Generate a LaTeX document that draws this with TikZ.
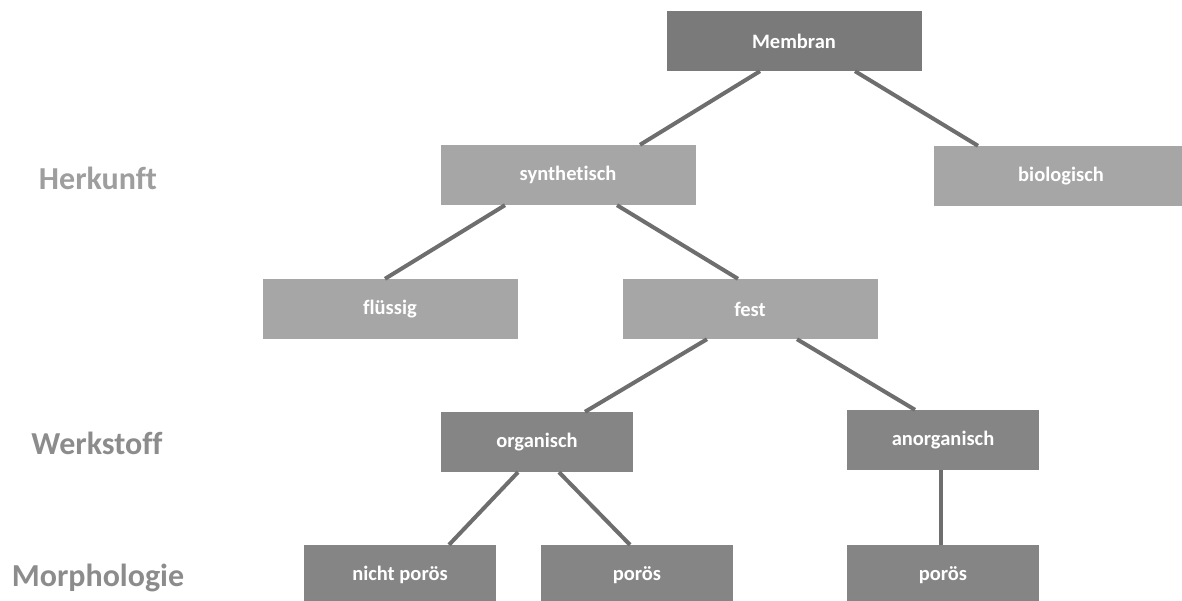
\documentclass[tikz,border=0pt]{standalone}
\usepackage{fontspec}
\setmainfont{Carlito}[Ligatures={NoCommon}]
\usepackage{tikz}
\usetikzlibrary{positioning}
\definecolor{TopGray}{gray}{0.48}
\definecolor{DarkGray}{gray}{0.52}
\definecolor{LightGray}{gray}{0.65}
\definecolor{EdgeGray}{gray}{0.43}
\definecolor{HerkunftGray}{gray}{0.62}
\definecolor{WerkstoffGray}{gray}{0.55}

\begin{document}
\begin{tikzpicture}[
  x=1pt, y=-1pt,
  topbox/.style={rectangle, fill=TopGray, text=white, font=\fontsize{20.5}{24}\selectfont\bfseries, minimum width=255pt, minimum height=60pt, inner sep=0pt},
  lightbox/.style={topbox, fill=LightGray},
  darkbox/.style={topbox, fill=DarkGray, minimum width=192pt},
  levellabel/.style={font=\fontsize{32}{36}\selectfont\bfseries},
  edge/.style={line width=4pt, EdgeGray}
]
\useasboundingbox (0,0) rectangle (1182,601);

% Levels on the left
\node[levellabel, text=HerkunftGray] (herkunft) at (98,178) {Herkunft};
\node[levellabel, text=WerkstoffGray] (werkstoff) at (97,443) {Werkstoff};
\node[levellabel, text=WerkstoffGray] (morph) at (98,578) {Morphologie};

% Root
\node[topbox] (mem) at (794,41) {Membran};

% Herkunft
\node[lightbox] (syn) at (568,175) {synthetisch};
\node[lightbox] (bio) at (1061,176) {biologisch};

% Aggregatzustand
\node[lightbox] (flu) at (390,309) {flüssig};
\node[lightbox] (fest) at (750,309) {fest};

% Werkstoff
\node[darkbox] (org) at (537,442) {organisch};
\node[darkbox] (anorg) at (943,440) {anorganisch};

% Morphologie
\node[darkbox] (nporoes) at (400,575) {nicht porös};
\node[darkbox] (poroesA) at (637,575) {porös};
\node[darkbox] (poroesB) at (943,575) {porös};

% Connectors
\draw[edge] ([xshift=-34pt]mem.south) -- ([xshift=72pt]syn.north);
\draw[edge] ([xshift=61pt]mem.south) -- ([xshift=-83pt]bio.north);
\draw[edge] ([xshift=-63pt]syn.south) -- ([xshift=-5pt]flu.north);
\draw[edge] ([xshift=49pt]syn.south) -- ([xshift=-12pt]fest.north);
\draw[edge] ([xshift=-43pt]fest.south) -- ([xshift=48pt]org.north);
\draw[edge] ([xshift=47pt]fest.south) -- ([xshift=-28pt]anorg.north);
\draw[edge] ([xshift=-19pt]org.south) -- ([xshift=49pt]nporoes.north);
\draw[edge] ([xshift=22pt]org.south) -- ([xshift=-7pt]poroesA.north);
\draw[edge] ([xshift=-2pt]anorg.south) -- ([xshift=-2pt]poroesB.north);

\end{tikzpicture}
\end{document}
